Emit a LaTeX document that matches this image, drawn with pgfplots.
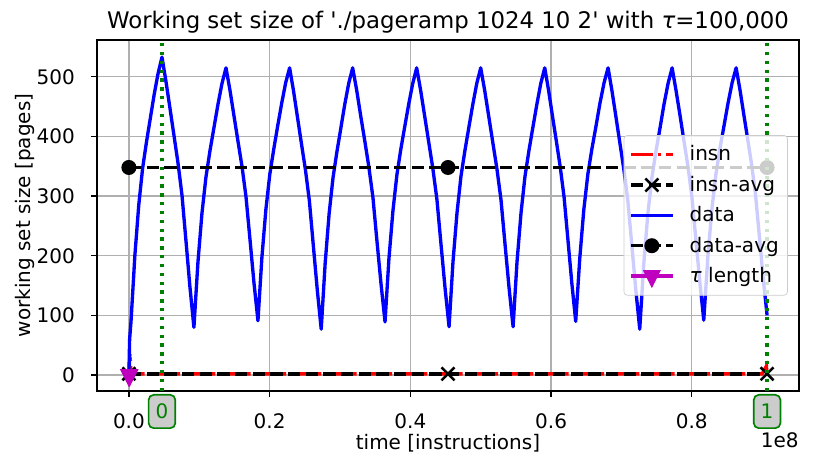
\documentclass[border=0pt]{standalone}
\usepackage{fontspec}
\setmainfont{DejaVu Sans}[Ligatures=TeXOff]
\usepackage{pgfplots}
\pgfplotsset{compat=1.18}
\definecolor{mplgreen}{HTML}{008000}
\definecolor{mplmag}{HTML}{BF00BF}
\definecolor{mplgrid}{HTML}{B0B0B0}
\definecolor{legframe}{HTML}{CCCCCC}
\begin{document}
\begin{tikzpicture}
\path[use as bounding box] (-58.2pt,-40.2pt) rectangle (438.6pt,234.6pt);
\begin{axis}[
  scale only axis, width=421.2pt, height=210.6pt,
  xmin=-0.04535, xmax=0.95235, ymin=-26.75, ymax=561.75,
  axis line style={line width=0.8pt},
  tick align=outside, xtick pos=bottom, ytick pos=left,
  major tick length=3.5pt, tick style={line width=0.8pt, black},
  xtick={0,0.2,0.4,0.6,0.8}, xticklabels={0.0,0.2,0.4,0.6,0.8},
  ytick={0,100,200,300,400,500},
  scaled ticks=false,
  grid=major, grid style={line width=0.8pt, color=mplgrid},
  /pgf/number format/assume math mode=true,
  ticklabel style={font=\fontsize{12}{14}\selectfont, inner sep=0pt},
  xticklabel style={anchor=north, yshift=-9.6pt},
  yticklabel style={anchor=east, xshift=-9.6pt},
  xlabel={time [instructions]}, ylabel={working set size [pages]},
  label style={font=\fontsize{12}{14}\selectfont},
  xlabel style={at={(axis description cs:0.5,-0.15)}, anchor=center, inner sep=0pt},
  ylabel style={at={(axis description cs:-0.1026,0.5)}, anchor=center, inner sep=0pt},
  every axis title shift=0pt,
  title={Working set size of './pageramp 1024 10 2' with \textit{τ}=100,000},
  title style={font=\fontsize{13.7}{16}\selectfont, at={(axis description cs:0.5,1.034)}, anchor=base, inner sep=0pt},
  legend style={at={(rel axis cs:0.984,0.729)}, anchor=north east, draw=legframe, fill=white, fill opacity=0.8, text opacity=1, draw opacity=1, rounded corners=2pt, font=\fontsize{12}{14}\selectfont, row sep=3.6pt, column sep=7.2pt, inner xsep=3.2pt, inner ysep=4.2pt, cells={anchor=west}},
  legend image code/.code={\draw[mark repeat=2,mark phase=2,fill opacity=1,draw opacity=1] plot coordinates {(0cm,0cm) (0.44cm,0cm) (0.88cm,0cm)};},
  clip mode=individual,
]
% insn
\addplot[color=red, line width=2pt, dash pattern=on 12.8pt off 3.2pt on 2pt off 3.2pt] coordinates {
 (0,0) (0.0015,37) (0.003,2) (0.9,2) (0.906,15) (0.907,2)
};
\addlegendentry{insn}
% insn-avg
\addplot[color=black, line width=2pt, dash pattern=on 7.4pt off 3.2pt, mark=x, mark size=5.5pt, mark options={solid, line width=1.5pt}] coordinates {
 (0,2) (0.4535,2) (0.907,2)
};
\addlegendentry{insn-avg}
% data
\addplot[color=blue, line width=2pt, line join=round] coordinates {
 (0,0) (0.001,60) (0.003,90)
 (0.0085,201) (0.014,285) (0.0195,347) (0.025,391) (0.0305,431) (0.036,471) (0.0415,506) (0.047,533)
 (0.0527,492) (0.0584,447) (0.0640,402) (0.0697,356) (0.0754,302) (0.0811,225) (0.0867,148) (0.0924,80)
 (0.0981,189) (0.1038,271) (0.1095,332) (0.1152,376) (0.1209,415) (0.1266,454) (0.1323,489) (0.138,515)
 (0.1437,477) (0.1494,434) (0.1550,392) (0.1607,350) (0.1664,299) (0.1721,227) (0.1777,155) (0.1834,91)
 (0.1890,197) (0.1947,278) (0.2003,337) (0.2059,379) (0.2115,418) (0.2172,456) (0.2228,490) (0.2284,515)
 (0.2340,476) (0.2396,432) (0.2452,388) (0.2509,344) (0.2565,292) (0.2621,217) (0.2677,143) (0.2733,77)
 (0.2789,187) (0.2845,270) (0.2901,331) (0.2957,375) (0.3012,414) (0.3068,454) (0.3124,489) (0.318,515)
 (0.3238,477) (0.3295,434) (0.3353,392) (0.3410,349) (0.3468,298) (0.3525,225) (0.3583,153) (0.364,89)
 (0.3696,196) (0.3753,276) (0.3809,336) (0.3865,379) (0.3921,417) (0.3978,455) (0.4034,489) (0.409,515)
 (0.4148,476) (0.4205,433) (0.4263,389) (0.4320,346) (0.4378,294) (0.4435,220) (0.4493,146) (0.455,81)
 (0.4606,190) (0.4663,272) (0.4719,333) (0.4775,376) (0.4831,415) (0.4888,454) (0.4944,489) (0.500,515)
 (0.5058,476) (0.5115,433) (0.5173,389) (0.5230,346) (0.5288,294) (0.5345,220) (0.5403,146) (0.546,81)
 (0.5516,190) (0.5573,272) (0.5629,333) (0.5685,376) (0.5741,415) (0.5798,454) (0.5854,489) (0.591,515)
 (0.5965,477) (0.6020,434) (0.6075,392) (0.6130,349) (0.6185,298) (0.6240,226) (0.6295,154) (0.635,90)
 (0.6408,196) (0.6465,277) (0.6523,337) (0.6580,379) (0.6638,417) (0.6695,456) (0.6753,490) (0.681,515)
 (0.6866,476) (0.6923,432) (0.6979,388) (0.7035,344) (0.7091,292) (0.7148,217) (0.7204,143) (0.726,77)
 (0.7318,187) (0.7375,270) (0.7433,331) (0.7490,375) (0.7548,414) (0.7605,454) (0.7663,489) (0.772,515)
 (0.7776,477) (0.7833,435) (0.7889,392) (0.7945,350) (0.8001,299) (0.8058,227) (0.8114,156) (0.817,92)
 (0.8228,198) (0.8285,278) (0.8343,337) (0.8400,380) (0.8458,418) (0.8515,456) (0.8573,490) (0.863,515)
 (0.8685,478) (0.8740,436) (0.8795,395) (0.8850,353) (0.8905,303) (0.8960,233) (0.9015,162) (0.907,100)
};
\addlegendentry{data}
% data-avg
\addplot[color=black, line width=2pt, dash pattern=on 7.4pt off 3.2pt, mark=*, mark size=4pt, mark options={solid, line width=1pt}] coordinates {
 (0,348) (0.4535,348) (0.907,348)
};
\addlegendentry{data-avg}
% tau length
\addplot[color=mplmag, fill=mplmag, line width=2pt, mark=triangle*, mark size=5.5pt, mark options={solid, rotate=180, yscale=1.155, line width=0.8pt}] coordinates {
 (0,0) (0.001,0)
};
\addlegendentry{\textit{τ} length}
% markers of the windows
\addplot[forget plot, color=mplgreen, line width=2pt, dash pattern=on 2pt off 3.3pt] coordinates {(0.047,-26.75) (0.047,561.75)};
\addplot[forget plot, color=mplgreen, line width=2pt, dash pattern=on 2pt off 3.3pt] coordinates {(0.907,-26.75) (0.907,561.75)};
\node[anchor=north, yshift=-1.8pt, draw=mplgreen, line width=1pt, fill=black!20, rounded corners=3pt, text=mplgreen, minimum width=16pt, minimum height=20pt, inner sep=0pt, font=\fontsize{12}{14}\selectfont] at (axis cs:0.047,-26.75) {0};
\node[anchor=north, yshift=-1.8pt, draw=mplgreen, line width=1pt, fill=black!20, rounded corners=3pt, text=mplgreen, minimum width=16pt, minimum height=20pt, inner sep=0pt, font=\fontsize{12}{14}\selectfont] at (axis cs:0.907,-26.75) {1};
\node[anchor=north east, yshift=-24.6pt, inner sep=0pt, font=\fontsize{12}{14}\selectfont] at (rel axis cs:1,0) {1e8};
\end{axis}
\end{tikzpicture}
\end{document}
